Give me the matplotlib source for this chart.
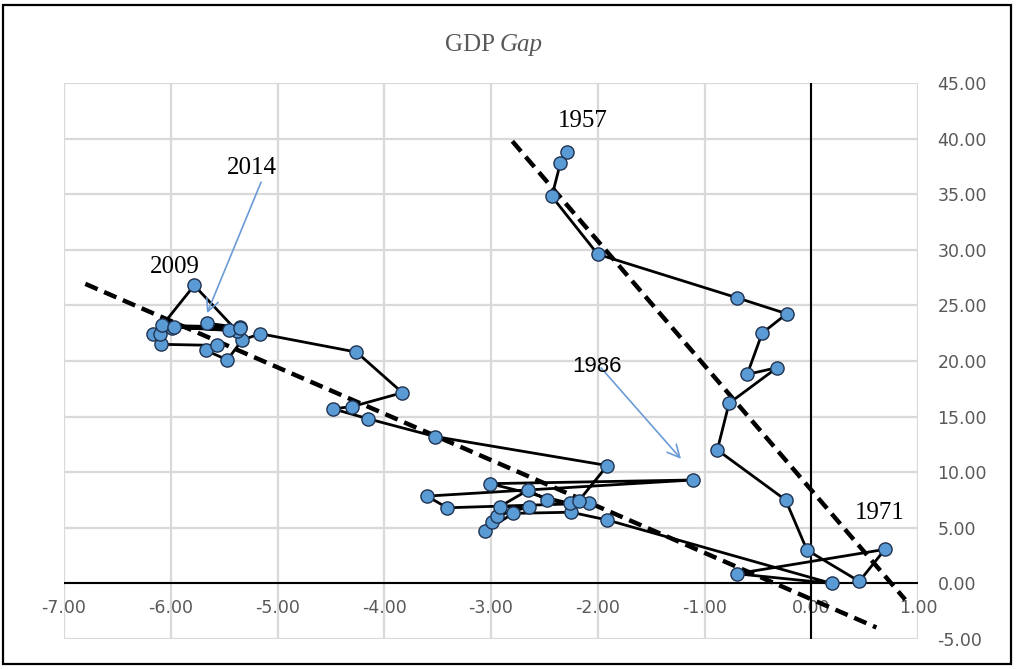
import numpy as np
import matplotlib
matplotlib.use("Agg")
from matplotlib import pyplot as plt
from matplotlib.patches import Rectangle

# path of the economy, one point per year (1957 .. 2014)
YEAR0 = 1957
gap_x = [
    -2.29, -2.35, -2.43, -2.00, -0.70, -0.23, -0.46, -0.60, -0.32, -0.77,
    -0.88, -0.24, -0.04, 0.45, 0.69,
    -0.70, 0.19,
    -1.91, -2.25, -2.79, -3.06, -2.99, -2.94, -2.64, -2.92, -2.65, -2.48,
    -2.26, -3.01, -1.11, -3.60, -3.41, -2.08, -2.18, -1.91,
    -3.52, -4.15, -4.48, -4.30, -3.83, -4.26, -5.16,
    -5.33, -5.47, -5.67, -5.57, -6.09, -6.17, -6.10, -5.99, -5.35, -6.08,
    -5.78, -5.38, -5.97, -5.45, -5.35, -5.66,
]
gap_y = [
    38.8, 37.8, 34.8, 29.6, 25.7, 24.25, 22.5, 18.8, 19.4, 16.2,
    12.0, 7.5, 3.0, 0.18, 3.06,
    0.87, 0.0,
    5.7, 6.4, 6.3, 4.7, 5.5, 6.1, 6.9, 6.9, 8.4, 7.5,
    7.2, 8.97, 9.3, 7.85, 6.8, 7.2, 7.4, 10.6,
    13.2, 14.8, 15.7, 15.9, 17.15, 20.8, 22.45,
    21.9, 20.1, 20.95, 21.4, 21.5, 22.4, 22.45, 23.0, 23.05, 23.2,
    26.8, 22.7, 23.05, 22.8, 23.0, 23.4,
]
years = [YEAR0 + i for i in range(len(gap_x))]

# linear trends: (slope, intercept, x from, x to)
trend_early = (-11.2, 8.4, -2.80, 0.88)
trend_late = (-4.17, -1.42, -6.80, 0.61)

x_ticks = np.arange(-7, 2, 1)
y_ticks = np.arange(-5, 50, 5)

W, H = 1016, 669
fig = plt.figure(figsize=(W / 100, H / 100), dpi=100)
ax = fig.add_axes([64 / W, 1 - 639 / H, (918 - 64) / W, (639 - 83) / H])

ax.set_xlim(-7, 1)
ax.set_ylim(-5, 45)
ax.set_xticks(x_ticks)
ax.set_yticks(y_ticks)
ax.set_xticklabels([f"{v:.2f}" for v in x_ticks])
ax.set_yticklabels([f"{v:.2f}" for v in y_ticks])
ax.grid(True, color="#d9d9d9", lw=1.6)
ax.set_axisbelow(True)
for s in ["top", "left", "right"]:
    ax.spines[s].set_visible(False)
ax.spines["bottom"].set_position(("data", 0))
ax.spines["bottom"].set_visible(False)
ax.yaxis.tick_right()
ax.tick_params(axis="x", length=0, pad=11, labelcolor="#595959")
ax.tick_params(axis="y", length=0, pad=14, labelcolor="#595959")
for t in ax.get_xticklabels() + ax.get_yticklabels():
    t.set_fontfamily(["Liberation Sans Narrow", "DejaVu Sans"])
    t.set_fontsize(12.5)

ax.axhline(0, color="black", lw=1.5, zorder=1)
ax.axvline(0, color="black", lw=1.5, zorder=1)

for slope, icpt, x0, x1 in (trend_early, trend_late):
    xs = np.array([x0, x1])
    ax.plot(xs, icpt + slope * xs, color="black", lw=3.2, ls=(0, (3, 1.6)), zorder=2)

ax.plot(gap_x, gap_y, color="black", lw=2.0, zorder=3,
        marker="o", markersize=9.5, markerfacecolor="#5b9bd5",
        markeredgecolor="#1f3350", markeredgewidth=1.0)

serif = dict(family="Liberation Serif", size=18, color="black")


def pt(year):
    i = years.index(year)
    return gap_x[i], gap_y[i]


ax.annotate("1957", pt(1957), xytext=(16, 31), textcoords="offset pixels",
            ha="center", va="center", **serif)
ax.annotate("2009", pt(2009), xytext=(-19, 18), textcoords="offset pixels",
            ha="center", va="center", **serif)
ax.annotate("1971", pt(1971), xytext=(-5, 36), textcoords="offset pixels",
            ha="center", va="center", **serif)

arrow = dict(arrowstyle="->", color="#6a9bd6", lw=1.2, mutation_scale=22,
             shrinkA=0, shrinkB=0)
x14, y14 = pt(2014)
ax.annotate("", (x14, y14 + 0.9), xytext=(54, 131), textcoords="offset pixels",
            arrowprops=arrow)
ax.annotate("2014", (x14, y14), xytext=(45, 155), textcoords="offset pixels",
            ha="center", va="center", **serif)
x86, y86 = pt(1986)
ax.annotate("", (x86 - 0.11, y86 + 1.9), xytext=(-80, 91), textcoords="offset pixels",
            arrowprops=arrow)
ax.annotate("1986", (x86, y86), xytext=(-96, 113), textcoords="offset pixels",
            ha="center", va="center", family="Liberation Sans",
            size=16, color="black")

fig.text(500 / W, 1 - 45 / H, "GDP ", ha="right", va="center",
         family="Liberation Serif", size=18, color="#595959")
fig.text(500 / W, 1 - 45 / H, "Gap", ha="left", va="center",
         family="Liberation Serif", style="italic", size=18, color="#595959")

fig.patches.append(Rectangle((3 / W, 1 - 664 / H), 1008 / W, 659 / H,
                             transform=fig.transFigure, fill=False,
                             edgecolor="black", lw=1.6))

fig.savefig("out.png", dpi=100)
